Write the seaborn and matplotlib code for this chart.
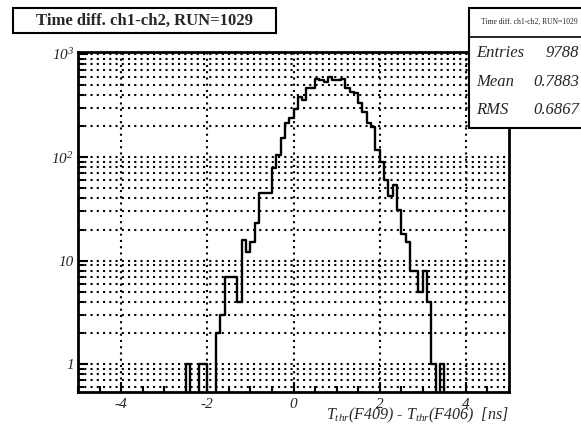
import numpy as np
import pandas as pd
import matplotlib
matplotlib.use("Agg")
import matplotlib.pyplot as plt
import matplotlib.ticker as mticker
from matplotlib.patches import Rectangle
from matplotlib.lines import Line2D
import seaborn as sns

# non-empty bins (left edge, count), bin width 0.1 ns, 100 bins in [-5, 5]
bin_left = [-2.5, -2.2, -2.1, -1.8, -1.7, -1.6, -1.5, -1.4, -1.3, -1.2,
            -1.1, -1.0, -0.9, -0.8, -0.7, -0.6, -0.5, -0.4, -0.3, -0.2,
            -0.1, 0.0, 0.1, 0.2, 0.3, 0.4, 0.5, 0.6, 0.7, 0.8,
            0.9, 1.0, 1.1, 1.2, 1.3, 1.4, 1.5, 1.6, 1.7, 1.8,
            1.9, 2.0, 2.1, 2.2, 2.3, 2.4, 2.5, 2.6, 2.7, 2.8,
            2.9, 3.0, 3.1, 3.2, 3.4]
counts = [1, 1, 1, 2, 3, 7, 7, 7, 4, 16,
          12, 15, 23, 45, 45, 45, 79, 105, 154, 215,
          240, 295, 387, 355, 467, 467, 570, 560, 541, 595,
          555, 555, 570, 467, 432, 417, 333, 276, 214, 198,
          118, 91, 60, 42, 54, 31, 18, 15, 8, 8,
          5, 8, 4, 1, 1]
bin_width = 0.1
n_bins = 100
x_range = (-5, 5)

x_ticks = [-4, -2, 0, 2, 4]
x_tick_labels = ["-4", "-2", "0", "2", "4"]
y_ticks = [1, 10, 100, 1000]
y_tick_labels = ["1", "10", "$10^{2}$", "$10^{3}$"]

title = "Time diff. ch1-ch2, RUN=1029"
stat_names = ["Entries", "Mean", "RMS"]
stat_values = ["9788", "0.7883", "0.6867"]

df = pd.DataFrame({"t": np.array(bin_left) + bin_width / 2, "n": counts})

sns.set_style("white")
plt.rcParams["font.family"] = ["Liberation Serif", "DejaVu Serif"]
plt.rcParams["mathtext.fontset"] = "custom"
plt.rcParams["mathtext.rm"] = "Liberation Serif:italic"
plt.rcParams["mathtext.it"] = "Liberation Serif:italic"

W, H = 581, 426
fig = plt.figure(figsize=(W / 100, H / 100), dpi=100)
ax = fig.add_axes([78 / W, 1 - 392 / H, (509 - 78) / W, (392 - 52) / H])

sns.histplot(data=df, x="t", weights="n", bins=n_bins, binrange=x_range,
             element="step", fill=False, color="black", linewidth=1.7, ax=ax)
ax.set_yscale("log")
ax.set_xlim(*x_range)
ax.set_ylim(0.536, 1045)

dots = (0, (1, 2))
ax.xaxis.set_major_locator(mticker.FixedLocator(x_ticks))
ax.xaxis.set_minor_locator(mticker.MultipleLocator(0.5))
ax.yaxis.set_major_locator(mticker.FixedLocator(y_ticks))
ax.yaxis.set_minor_locator(mticker.LogLocator(base=10, subs=range(2, 10), numticks=20))
ax.yaxis.set_minor_formatter(mticker.NullFormatter())
ax.set_xticklabels(x_tick_labels)
ax.set_yticklabels(y_tick_labels)
ax.grid(True, which="major", axis="x", color="black", linestyle=dots, linewidth=1.5)
ax.grid(True, which="both", axis="y", color="black", linestyle=dots, linewidth=1.5)

ax.tick_params(which="both", direction="in", bottom=True, left=True, top=False, right=False,
               labelsize=11, width=1.5, color="black")
ax.tick_params(which="major", length=7)
ax.tick_params(which="minor", length=4.5)
ax.tick_params(axis="x", pad=4)
ax.tick_params(axis="y", pad=3)
for lbl in ax.get_xticklabels() + ax.get_yticklabels():
    lbl.set_fontstyle("italic")
for s in ax.spines.values():
    s.set_linewidth(2)
    s.set_color("black")

ax.set_ylabel("")
ax.set_xlabel(r"$T_{thr}$(F409) - $T_{thr}$(F406)  [ns]", fontsize=11.5, fontstyle="italic")
ax.xaxis.set_label_coords(1.0, -0.04)
ax.xaxis.label.set_horizontalalignment("right")

# title box
fig.add_artist(Rectangle((13 / W, 1 - 33 / H), (276 - 13) / W, 25 / H, transform=fig.transFigure,
                         facecolor="white", edgecolor="black", linewidth=1.5, zorder=5))
fig.text(145 / W, 1 - 20.5 / H, title, ha="center", va="center", fontsize=12,
         fontweight="bold", zorder=6)

# stats box
fig.add_artist(Rectangle((469 / W, 1 - 128 / H), (600 - 469) / W, 120 / H, transform=fig.transFigure,
                         facecolor="white", edgecolor="black", linewidth=1.5, zorder=5))
fig.add_artist(Line2D([469 / W, 1.05], [1 - 37 / H, 1 - 37 / H], transform=fig.transFigure,
                      color="black", linewidth=1.2, zorder=6))
fig.text(529 / W, 1 - 22 / H, title, ha="center", va="center", fontsize=5.5, zorder=6)
for i, (nm, val) in enumerate(zip(stat_names, stat_values)):
    yy = 1 - (53 + 28.5 * i) / H
    fig.text(476 / W, yy, nm, ha="left", va="center", fontsize=12, fontstyle="italic", zorder=6)
    fig.text(0.997, yy, val, ha="right", va="center", fontsize=12, fontstyle="italic", zorder=6)

fig.savefig("out.png", dpi=100)
